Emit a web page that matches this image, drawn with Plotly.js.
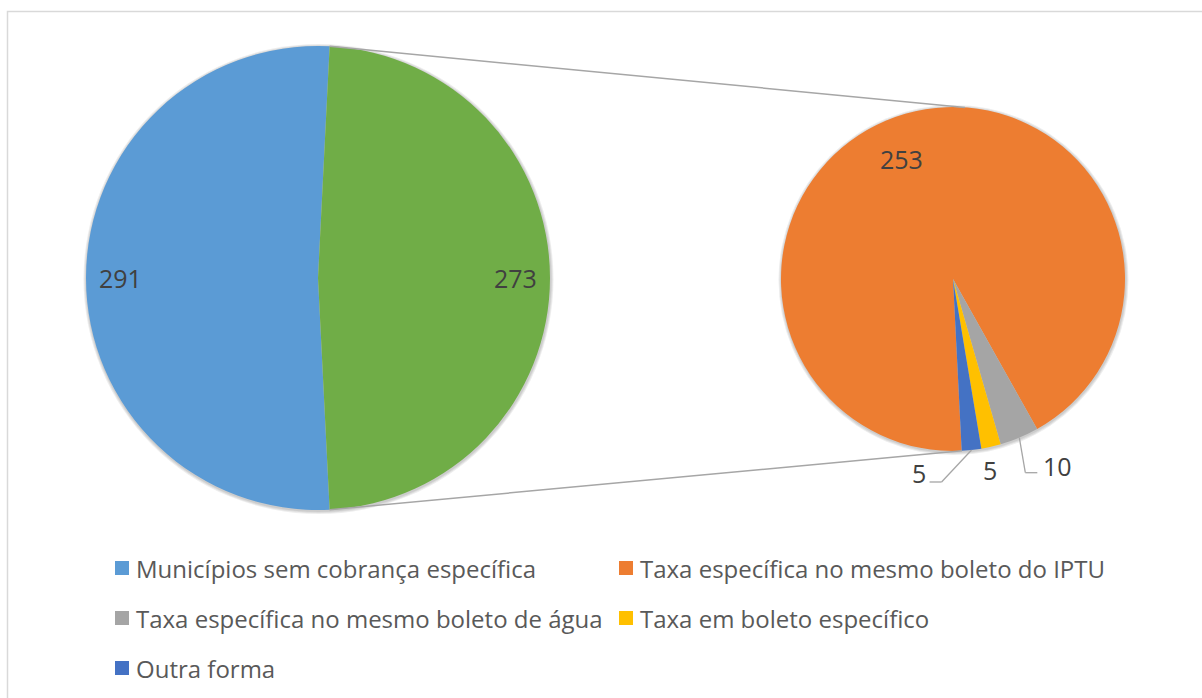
<!DOCTYPE html>
<html>
<head>
<meta charset="utf-8">
<script src="https://cdn.plot.ly/plotly-3.0.1.min.js"></script>
<style>html,body{margin:0;padding:0;background:#fff;}#chart{width:1202px;height:698px;}</style>
</head>
<body>
<div id="chart"></div>
<script>
// ---------- DATA ----------
const primaryLabels = ["Municípios sem cobrança específica", "Municípios com cobrança específica"];
const primaryValues = [291, 273];
const secondaryLabels = [
  "Taxa específica no mesmo boleto do IPTU",
  "Taxa específica no mesmo boleto de água",
  "Taxa em boleto específico",
  "Outra forma"
];
const secondaryValues = [253, 10, 5, 5];

// ---------- STYLE ----------
const primaryColors = ["#5B9BD5", "#70AD47"];
const secondaryColors = ["#ED7D31", "#A5A5A5", "#FFC000", "#4472C4"];
const W = 1202, H = 698;
const FONT = "Open Sans, Liberation Sans, sans-serif";

// pie geometry (pixels)
const P1 = {cx: 318, cy: 278, r: 232};
const P2 = {cx: 953, cy: 279, r: 172};
const rot2 = 177.1; // start angle of secondary pie (clockwise from 12 o'clock)

const px = x => x / W;
const py = y => 1 - y / H;

const total1 = primaryValues.reduce((a, b) => a + b, 0);
const total2 = secondaryValues.reduce((a, b) => a + b, 0);
// the grouped slice (index 1) is centred at 3 o'clock
const groupSpan = 360 * primaryValues[1] / total1;
const rot1 = 90 + groupSpan / 2;

function sliceAngles(values, total, rot) {
  let a = rot, out = [];
  values.forEach(v => { const s = 360 * v / total; out.push({start: a, end: a + s, mid: a + s / 2}); a += s; });
  return out;
}
function pt(p, ang, frac) {
  const t = ang * Math.PI / 180;
  return {x: p.cx + frac * p.r * Math.sin(t), y: p.cy - frac * p.r * Math.cos(t)};
}
const ang1 = sliceAngles(primaryValues, total1, rot1);
const ang2 = sliceAngles(secondaryValues, total2, rot2);

function domainOf(p) {
  return {x: [px(p.cx - p.r), px(p.cx + p.r)], y: [py(p.cy + p.r), py(p.cy - p.r)]};
}

const traces = [
  {
    type: "pie", values: primaryValues, labels: primaryLabels, sort: false,
    direction: "clockwise", rotation: rot1, textinfo: "none", showlegend: false,
    marker: {colors: primaryColors, line: {width: 0}}, domain: domainOf(P1), hole: 0
  },
  {
    type: "pie", values: secondaryValues, labels: secondaryLabels, sort: false,
    direction: "clockwise", rotation: rot2, textinfo: "none", showlegend: false,
    marker: {colors: secondaryColors, line: {width: 0}}, domain: domainOf(P2), hole: 0
  }
];

const shapes = [];
const annotations = [];
const lineColor = "#A6A6A6";

// outer border
shapes.push({type: "rect", xref: "paper", yref: "paper", x0: px(7.5), x1: px(W + 20), y0: py(H + 20), y1: py(11.5),
  line: {color: "#D9D9D9", width: 1.5}, fillcolor: "rgba(0,0,0,0)", layer: "below"});

// soft shadows behind pies
[P1, P2].forEach(p => {
  for (let k = 3; k >= 1; k--) {
    shapes.push({type: "circle", xref: "paper", yref: "paper", layer: "below",
      x0: px(p.cx - p.r - k + 0.5), x1: px(p.cx + p.r + k + 0.5),
      y0: py(p.cy + p.r + k + 1), y1: py(p.cy - p.r - k + 1),
      fillcolor: "rgba(0,0,0,0.07)", line: {width: 0}});
  }
});

// connector lines between the grouped slice and the secondary pie
const g0 = pt(P1, ang1[1].start, 1), g1 = pt(P1, ang1[1].end, 1);
const s0 = pt(P2, 4, 1), s1 = pt(P2, 177, 1);
shapes.push({type: "line", xref: "paper", yref: "paper", x0: px(g0.x), y0: py(g0.y), x1: px(s0.x), y1: py(s0.y), line: {color: lineColor, width: 1.5}});
shapes.push({type: "line", xref: "paper", yref: "paper", x0: px(g1.x), y0: py(g1.y), x1: px(s1.x), y1: py(s1.y), line: {color: lineColor, width: 1.5}});

// data labels
const labelFont = {family: FONT, size: 25, color: "#404040"};
function addLabel(x, y, text) {
  annotations.push({xref: "paper", yref: "paper", x: px(x), y: py(y), text: String(text), showarrow: false,
    xanchor: "center", yanchor: "middle", font: labelFont});
}
// primary pie labels (inside end)
primaryValues.forEach((v, i) => { const p = pt(P1, ang1[i].mid, 0.85); addLabel(p.x, p.y, v); });
// secondary big slice
{ const p = pt(P2, ang2[0].mid - 7, 0.76); addLabel(p.x, p.y, secondaryValues[0]); }
// small slices with leader lines
function polyline(points) {
  for (let i = 0; i < points.length - 1; i++) {
    shapes.push({type: "line", xref: "paper", yref: "paper", x0: px(points[i].x), y0: py(points[i].y),
      x1: px(points[i + 1].x), y1: py(points[i + 1].y), line: {color: lineColor, width: 1.3}});
  }
}
{ // gray slice -> label on right
  const e = pt(P2, ang2[1].mid, 1);
  polyline([e, {x: e.x + 6, y: e.y + 35}, {x: e.x + 18, y: e.y + 35}]);
  addLabel(e.x + 38, e.y + 28, secondaryValues[1]);
}
{ // yellow slice -> label just below
  const e = pt(P2, ang2[2].mid, 1);
  addLabel(e.x - 1, e.y + 23, secondaryValues[2]);
}
{ // blue slice -> label lower left
  const e = pt(P2, ang2[3].mid, 1);
  polyline([e, {x: e.x - 30, y: e.y + 32}, {x: e.x - 42, y: e.y + 32}]);
  addLabel(e.x - 53, e.y + 23, secondaryValues[3]);
}

// legend (manual, two columns)
const legendLabels = [primaryLabels[0]].concat(secondaryLabels);
const legendColors = [primaryColors[0]].concat(secondaryColors);
const colX = [115, 619];
const rowY = [568, 618, 668];
legendLabels.forEach((lab, i) => {
  const cx = colX[i % 2], cy = rowY[Math.floor(i / 2)];
  shapes.push({type: "rect", xref: "paper", yref: "paper", x0: px(cx), x1: px(cx + 14), y0: py(cy + 7), y1: py(cy - 7),
    fillcolor: legendColors[i], line: {width: 0}});
  annotations.push({xref: "paper", yref: "paper", x: px(cx + 19), y: py(cy), text: lab, showarrow: false,
    xanchor: "left", yanchor: "middle", font: {family: FONT, size: 24, color: "#595959"}});
});

const layout = {
  width: W, height: H, margin: {l: 0, r: 0, t: 0, b: 0},
  paper_bgcolor: "#FFFFFF", plot_bgcolor: "#FFFFFF",
  showlegend: false, shapes: shapes, annotations: annotations
};
Plotly.newPlot("chart", traces, layout, {displayModeBar: false, staticPlot: true});
</script>
</body>
</html>
